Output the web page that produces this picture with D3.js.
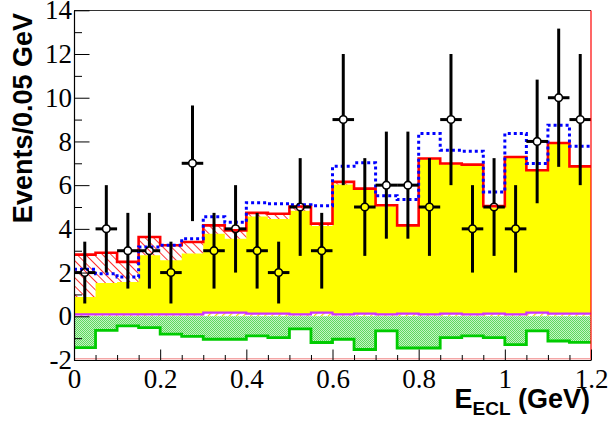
<!DOCTYPE html>
<html>
<head>
<meta charset="utf-8">
<script src="https://cdn.jsdelivr.net/npm/d3@7"></script>
<style>
  body { margin: 0; background: #fff; }
  svg { display: block; }
</style>
</head>
<body>
<svg id="chart" width="609" height="421"></svg>
<script>
// bin low edges, 0.05 GeV wide
var binLo = [0, 0.05, 0.1, 0.15, 0.2, 0.25, 0.3, 0.35, 0.4, 0.45, 0.5, 0.55,
             0.6, 0.65, 0.7, 0.75, 0.8, 0.85, 0.9, 0.95, 1.0, 1.05, 1.1, 1.15];
var binWidth = 0.05;

var dataCounts = [2, 4, 3, 3, 2, 7, 3, 4, 3, 2, 5, 3, 9, 5, 6, 6, 5, 9, 4, 5, 4, 8, 10, 9];
var yellowHist = [0.88, 1.52, 1.57, 2.79, 2.56, 2.87, 3.78, 3.55, 4.57, 4.45, 4.83, 4.13,
                  6.03, 5.80, 5.03, 4.13, 7.19, 6.96, 6.91, 4.98, 7.26, 6.65, 7.90, 6.83];
var redHist = [2.82, 2.91, 2.49, 3.63, 3.25, 3.40, 4.16, 3.93, 4.73, 4.69, 5.02, 4.24,
               6.15, 5.84, 5.08, 4.16, 7.22, 6.99, 6.94, 5.04, 7.29, 6.68, 7.93, 6.86];
var blueHist = [2.15, 1.95, 1.8, 3.17, 3.25, 3.55, 4.55, 4.3, 5.2, 5.15, 5.1, 5.06,
                6.86, 7.02, 5.51, 5.34, 8.36, 7.6, 7.55, 5.69, 8.36, 6.99, 8.74, 7.78];
var purpleHist = [0.09, 0.09, 0.09, 0.09, 0.09, 0.09, 0.17, 0.17, 0.12, 0.12, 0.09, 0.17,
                  0.09, 0.12, 0.09, 0.12, 0.09, 0.12, 0.09, 0.12, 0.09, 0.17, 0.12, 0.12];
var greenHist = [-1.43, -0.64, -0.44, -0.52, -0.82, -0.92, -1.05, -1.05, -0.90, -0.98, -0.58, -1.20,
                 -1.05, -1.52, -0.67, -1.45, -1.45, -0.98, -0.90, -0.98, -1.30, -0.67, -1.13, -1.19];

var xTicks = [0, 0.2, 0.4, 0.6, 0.8, 1, 1.2];
var yTicks = [-2, 0, 2, 4, 6, 8, 10, 12, 14];

var svg = d3.select("#chart");
var x = d3.scaleLinear().domain([0, 1.2]).range([74, 591]);
var y = d3.scaleLinear().domain([-2, 14]).range([360, 10.3]);

var defs = svg.append("defs");
// red "\\\" hatch
var pr = defs.append("pattern").attr("id", "redHatch")
    .attr("patternUnits", "userSpaceOnUse").attr("width", 6).attr("height", 6)
    .attr("patternTransform", "rotate(-45)");
pr.append("line").attr("x1", 0).attr("y1", 0).attr("x2", 0).attr("y2", 6)
    .attr("stroke", "#ff0000").attr("stroke-width", 1.6);
// yellow "///" hatch for the small component
var py = defs.append("pattern").attr("id", "yellowHatch")
    .attr("patternUnits", "userSpaceOnUse").attr("width", 5).attr("height", 5)
    .attr("patternTransform", "rotate(45)");
py.append("rect").attr("width", 5).attr("height", 5).attr("fill", "#fff");
py.append("line").attr("x1", 0).attr("y1", 0).attr("x2", 0).attr("y2", 5)
    .attr("stroke", "#f0e000").attr("stroke-width", 2.5);
// green checkerboard
var pg = defs.append("pattern").attr("id", "greenCheck")
    .attr("patternUnits", "userSpaceOnUse").attr("width", 2).attr("height", 2);
pg.append("rect").attr("width", 2).attr("height", 2).attr("fill", "#c4f4c4");
pg.append("rect").attr("width", 1).attr("height", 1).attr("fill", "#5ed85e");
pg.append("rect").attr("x", 1).attr("y", 1).attr("width", 1).attr("height", 1).attr("fill", "#5ed85e");

// step points: one per bin plus closing edge
function stepPts(vals) {
    var pts = binLo.map(function (lo, i) { return { x: lo, v: vals[i], i: i }; });
    pts.push({ x: binLo[binLo.length - 1] + binWidth, v: vals[vals.length - 1], i: vals.length - 1 });
    return pts;
}
function stepArea(top, base) {
    return d3.area().curve(d3.curveStepAfter)
        .x(function (d) { return x(d.x); })
        .y0(function (d) { return y(base ? base[d.i] : 0); })
        .y1(function (d) { return y(top[d.i]); });
}
function stepLine(vals) {
    return d3.line().curve(d3.curveStepAfter)
        .x(function (d) { return x(d.x); })
        .y(function (d) { return y(vals[d.i]); });
}

var plot = svg.append("g");

// yellow component
plot.append("path").datum(stepPts(yellowHist))
    .attr("d", stepArea(yellowHist)).attr("fill", "#ffff00");
// red hatched component stacked on yellow
plot.append("path").datum(stepPts(redHist))
    .attr("d", stepArea(redHist, yellowHist)).attr("fill", "url(#redHatch)");
plot.append("path").datum(stepPts(redHist))
    .attr("d", stepLine(redHist)).attr("fill", "none")
    .attr("stroke", "#ff0000").attr("stroke-width", 2.6);
// blue dotted total
plot.append("path").datum(stepPts(blueHist))
    .attr("d", stepLine(blueHist)).attr("fill", "none")
    .attr("stroke", "#0000ff").attr("stroke-width", 3).attr("stroke-dasharray", "3,3");
// small purple/yellow component
plot.append("path").datum(stepPts(purpleHist))
    .attr("d", stepArea(purpleHist)).attr("fill", "url(#yellowHatch)");
plot.append("path").datum(stepPts(purpleHist))
    .attr("d", stepLine(purpleHist)).attr("fill", "none")
    .attr("stroke", "#cc33ff").attr("stroke-width", 2.2);
// green negative component
plot.append("path").datum(stepPts(greenHist))
    .attr("d", stepArea(greenHist)).attr("fill", "url(#greenCheck)");
plot.append("path").datum(stepPts(greenHist))
    .attr("d", stepLine(greenHist)).attr("fill", "none")
    .attr("stroke", "#00cc00").attr("stroke-width", 2.8);

// data points with sqrt(N) errors, open circles
var r = 3.8;
var pts = plot.append("g").selectAll("g").data(dataCounts).enter().append("g");
pts.each(function (n, i) {
    var g = d3.select(this),
        cx = x(binLo[i] + binWidth / 2), cy = y(n), e = Math.sqrt(n);
    var segs = [
        [cx, y(n + e), cx, cy - r],
        [cx, cy + r, cx, y(n - e)],
        [x(binLo[i]), cy, cx - r, cy],
        [cx + r, cy, x(binLo[i] + binWidth), cy]
    ];
    segs.forEach(function (s) {
        g.append("line").attr("x1", s[0]).attr("y1", s[1]).attr("x2", s[2]).attr("y2", s[3])
            .attr("stroke", "#000").attr("stroke-width", 3);
    });
    g.append("circle").attr("cx", cx).attr("cy", cy).attr("r", r)
        .attr("fill", "none").attr("stroke", "#000").attr("stroke-width", 1.6);
});

// frame
svg.append("line").attr("x1", 74).attr("x2", 591).attr("y1", 10.5).attr("y2", 10.5)
    .attr("stroke", "#333").attr("stroke-width", 1.2);
svg.append("line").attr("x1", 591).attr("x2", 591).attr("y1", 10.5).attr("y2", 360)
    .attr("stroke", "#ff0000").attr("stroke-width", 1.2);
svg.append("line").attr("x1", 74).attr("x2", 591).attr("y1", 358.8).attr("y2", 358.8)
    .attr("stroke", "#f08080").attr("stroke-width", 1);

// axes
var serif = "'Liberation Serif', 'Times New Roman', serif";
var yAxis = svg.append("g").attr("transform", "translate(74,0)")
    .call(d3.axisLeft(y).tickValues(yTicks).tickSize(-15.5).tickSizeOuter(0).tickPadding(2)
        .tickFormat(function (d) { return String(d); }));
svg.append("g").attr("transform", "translate(74,0)")
    .call(d3.axisLeft(y).tickValues(d3.range(-1, 14, 2)).tickSize(-8).tickFormat(""))
    .select(".domain").remove();
var xAxis = svg.append("g").attr("transform", "translate(0,360)")
    .call(d3.axisBottom(x).tickValues(xTicks).tickSize(-10.5).tickSizeOuter(0).tickPadding(9)
        .tickFormat(function (d) { return String(d); }));
svg.append("g").attr("transform", "translate(0,360)")
    .call(d3.axisBottom(x).tickValues(binLo.filter(function (d, i) { return i % 4 !== 0; }))
        .tickSize(-5).tickFormat(""))
    .select(".domain").remove();
svg.selectAll(".tick line").attr("stroke", "#000").attr("stroke-width", 1);
svg.selectAll(".domain").attr("stroke", "#000").attr("stroke-width", 1.2);
[yAxis, xAxis].forEach(function (a) {
    a.selectAll("text").attr("font-family", serif).attr("font-size", 27).attr("fill", "#000");
});

// titles
svg.append("text")
    .attr("transform", "translate(32,13) rotate(-90)")
    .attr("text-anchor", "end")
    .attr("font-family", "'Liberation Sans', Arial, sans-serif")
    .attr("font-weight", "bold").attr("font-size", 27)
    .text("Events/0.05 GeV");
var xt = svg.append("text")
    .attr("x", 590).attr("y", 408).attr("text-anchor", "end")
    .attr("font-family", "'Liberation Sans', Arial, sans-serif")
    .attr("font-weight", "bold").attr("font-size", 27);
xt.append("tspan").text("E");
xt.append("tspan").attr("font-size", 19).attr("dy", 7).text("ECL");
xt.append("tspan").attr("dy", -7).text(" (GeV)");
</script>
</body>
</html>
